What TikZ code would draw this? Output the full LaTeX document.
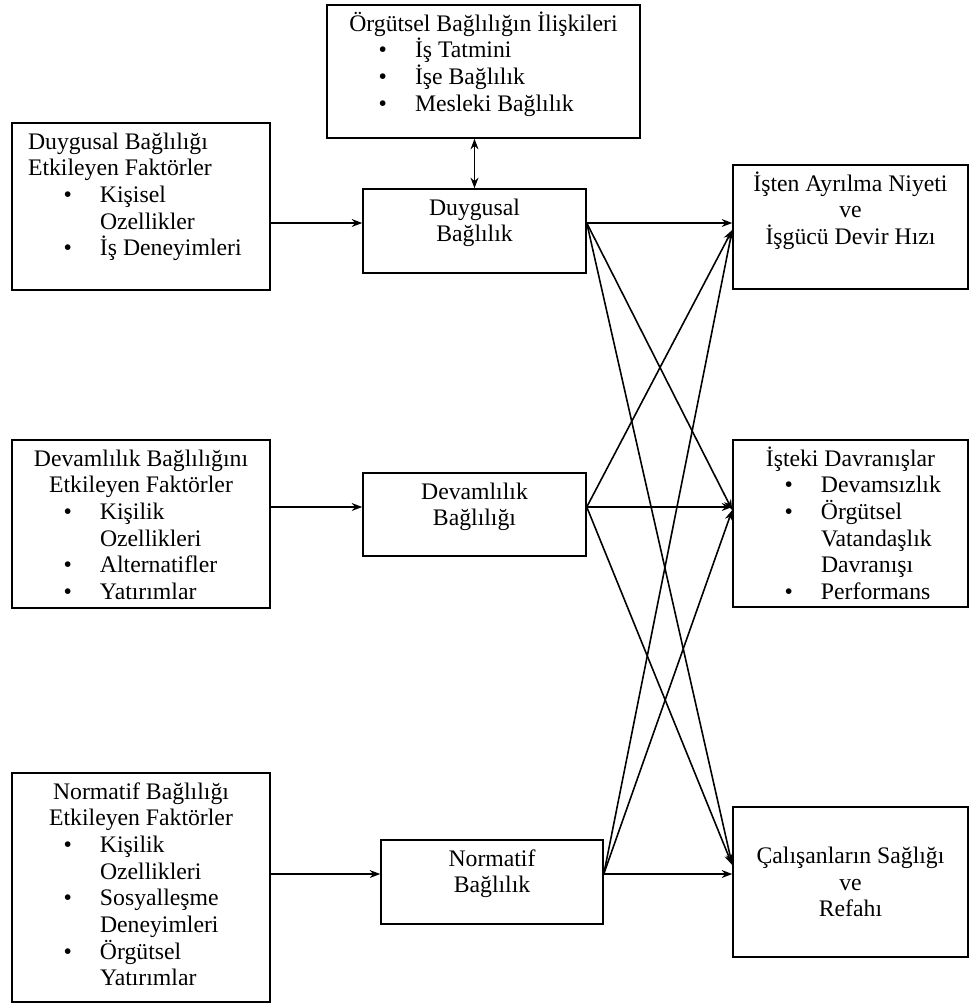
\documentclass[tikz,border=0pt]{standalone}
\usepackage{fontspec}
\setmainfont{Liberation Serif}
\usepackage{tikz}
\usetikzlibrary{arrows.meta,positioning}
\tikzstyle{arrow} = [line width=0.9pt,->,>={Stealth[length=6pt,width=4.5pt]}]
\tikzstyle{biarrow} = [line width=0.9pt,<->,>={Stealth[length=6pt,width=4.5pt]}]
\tikzstyle{boxnode} = [rectangle, draw, line width=0.9pt, inner sep=0pt]
\newcommand{\boxtext}[4][t]{\parbox[c][#3][#1]{#2}{\parindent=0pt #4}}
\newcommand{\firstline}{\rule{0pt}{0.52cm}}
\newcommand{\bitem}[1]{\par\leavevmode\hspace*{1.03cm}\makebox[0.73cm][l]{\textbullet}#1}
\newcommand{\bcont}[1]{\par\leavevmode\hspace*{1.76cm}#1}
\begin{document}
\begin{tikzpicture}[x=0.02cm, y=-0.02cm, font=\fontsize{13.5}{15.2}\selectfont]
\useasboundingbox (0,0) rectangle (970,1008);

% iliskiler
\node[boxnode] (rel) at (483.5,71.5) {\boxtext{6.26cm}{2.66cm}{%
  {\centering\firstline Örgütsel Bağlılığın İlişkileri\par}
  \bitem{İş Tatmini}\bitem{İşe Bağlılık}\bitem{Mesleki Bağlılık}}};

% faktorler
\node[boxnode] (fduy) at (141,206.5) {\boxtext{5.16cm}{3.34cm}{%
  \leavevmode\hspace*{0.32cm}\firstline Duygusal Bağlılığı\par
  \leavevmode\hspace*{0.32cm}Etkileyen Faktörler
  \bitem{Kişisel}\bcont{Ozellikler}\bitem{İş Deneyimleri}}};
\node[boxnode] (fdev) at (141,524) {\boxtext{5.16cm}{3.36cm}{%
  {\centering\firstline Devamlılık Bağlılığını\\Etkileyen Faktörler\par}
  \bitem{Kişilik}\bcont{Ozellikleri}\bitem{Alternatifler}\bitem{Yatırımlar}}};
\node[boxnode] (fnor) at (141,887.5) {\boxtext{5.16cm}{4.58cm}{%
  {\centering\firstline Normatif Bağlılığı\\Etkileyen Faktörler\par}
  \bitem{Kişilik}\bcont{Ozellikleri}\bitem{Sosyalleşme}\bcont{Deneyimleri}%
  \bitem{Örgütsel}\bcont{Yatırımlar}}};

% baglilik turleri
\node[boxnode] (duy) at (474.5,231) {\boxtext{4.46cm}{1.68cm}{%
  \centering\firstline Duygusal\\Bağlılık}};
\node[boxnode] (dev) at (474.5,514.5) {\boxtext{4.46cm}{1.66cm}{%
  \centering\firstline Devamlılık\\Bağlılığı}};
\node[boxnode] (nor) at (492,882) {\boxtext{4.44cm}{1.68cm}{%
  \centering\firstline Normatif\\Bağlılık}};

% sonuclar
\node[boxnode] (out1) at (850.5,227) {\boxtext{4.7cm}{2.48cm}{%
  \centering\firstline İşten Ayrılma Niyeti\\ve\\İşgücü Devir Hızı}};
\node[boxnode] (out2) at (850.5,523.5) {\boxtext{4.7cm}{3.34cm}{%
  {\centering\firstline İşteki Davranışlar\par}
  \bitem{Devamsızlık}\bitem{Örgütsel}\bcont{Vatandaşlık}\bcont{Davranışı}%
  \bitem{Performans}}};
\node[boxnode] (out3) at (850.5,882) {\boxtext[c]{4.7cm}{3.0cm}{%
  \centering Çalışanların Sağlığı\\ve\\Refahı}};

\coordinate (sduy) at ([yshift=0.16cm]duy.east);
\coordinate (sdev) at ([yshift=0.15cm]dev.east);
\coordinate (snor) at ([yshift=0.16cm]nor.east);
\coordinate (tout1) at ([yshift=-0.06cm]out1.west);
\coordinate (tout2) at ([yshift=0.27cm]out2.west);
\coordinate (tout3) at ([yshift=0.34cm]out3.west);

\draw[biarrow] (duy.north) -- (duy.north |- rel.south);

\draw[arrow] (fduy.east |- sduy) -- (duy.west |- sduy);
\draw[arrow] (fdev.east |- sdev) -- (dev.west |- sdev);
\draw[arrow] (fnor.east |- snor) -- (nor.west |- snor);

\draw[arrow] (sduy) -- (sduy -| out1.west);
\draw[arrow] (sdev) -- (sdev -| out2.west);
\draw[arrow] (snor) -- (snor -| out3.west);

\draw[arrow] (sduy) -- (tout2);
\draw[arrow] (sduy) -- (tout3);
\draw[arrow] (sdev) -- (tout1);
\draw[arrow] (sdev) -- (tout3);
\draw[arrow] (snor) -- (tout1);
\draw[arrow] (snor) -- (tout2);
\end{tikzpicture}
\end{document}
